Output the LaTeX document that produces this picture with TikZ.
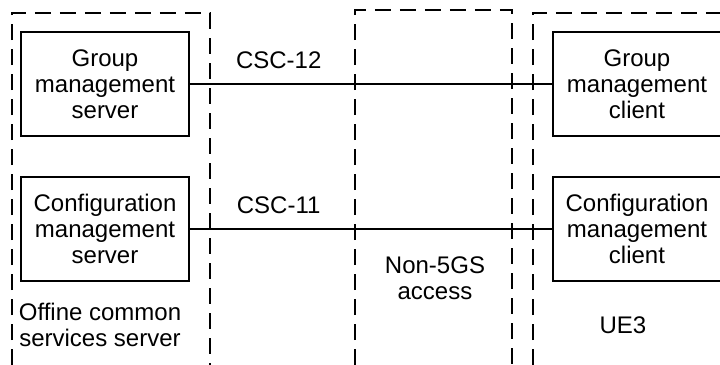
\documentclass[tikz,border=0pt]{standalone}
\usepackage{fontspec}
\setmainfont{Liberation Sans}
\usetikzlibrary{
	arrows.meta,
	positioning
}
\tikzset{
  % box
	cstbox/.style     ={draw=black,line width=1pt,minimum width=84pt,minimum height=52pt,
	                    align=center,font=\fontsize{12}{13}\selectfont,inner sep=0pt},
  % zone
	cstzone/.style    ={line width=1pt,dash pattern=on 8pt off 4.5pt},
	csttext/.style    ={align=center,font=\fontsize{12}{13}\selectfont,inner sep=0pt},
  % link
	cstlink/.style    ={line width=1pt},
	cstlabel/.style   ={font=\fontsize{12}{13}\selectfont,inner sep=0pt}
}
\begin{document}
\begin{tikzpicture}[x=0.5pt,y=-0.5pt]
	\useasboundingbox (0,0) rectangle (720,365);
	% zones
	\draw[cstzone] (12,390) |- (210,13) -- (210,390);
	\draw[cstzone] (355,390) |- (512,10) -- (512,390);
	\draw[cstzone] (533,390) |- (760,13);
	\node[csttext] (oss) at (100,325) {Offine common\\services server};
	\node[csttext] (acc) at (435,278) {Non-5GS\\access};
	\node[csttext] (ue) at (623,325) {UE3};
	% functions
	\node[cstbox] (gms) at (105,84) {Group\\management\\server};
	\node[cstbox] (cms) at (105,229) {Configuration\\management\\server};
	\node[cstbox] (gmc) at (637,84) {Group\\management\\client};
	\node[cstbox] (cmc) at (637,229) {Configuration\\management\\client};
	% reference points
	\draw[cstlink] (gms) -- node[cstlabel,pos=.245,above=7pt] {CSC-12} (gmc);
	\draw[cstlink] (cms) -- node[cstlabel,pos=.245,above=7pt] {CSC-11} (cmc);
\end{tikzpicture}
\end{document}
